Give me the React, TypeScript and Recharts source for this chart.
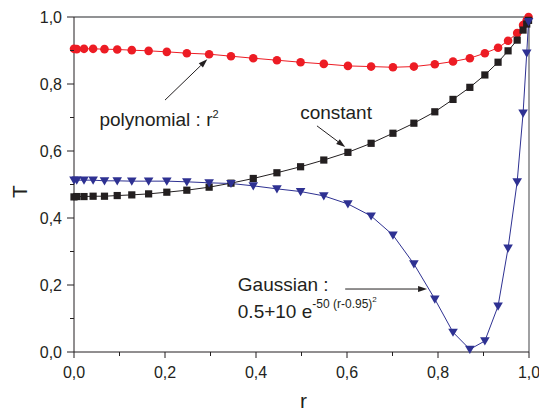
import { Line, LineChart, ReferenceDot, ReferenceLine, XAxis, YAxis } from 'recharts'

const FONT = '"Liberation Sans", Arial, sans-serif'
const INK = '#231f20'
const RED = '#ed1c24'
const BLUE = '#2e3192'
const FRAME = '#6d6e71'

// r positions of the computed points (same for all three profiles)
const rValues = [
  0, 0.006, 0.022, 0.042, 0.067, 0.095, 0.127, 0.164, 0.204, 0.248, 0.297, 0.345, 0.394, 0.446, 0.498,
  0.549, 0.602, 0.653, 0.701, 0.747, 0.793, 0.833, 0.87, 0.903, 0.932, 0.954, 0.974, 0.987, 0.995, 0.999
]

const polynomialT = [
  0.905, 0.904, 0.905, 0.905, 0.904, 0.903, 0.901, 0.899, 0.896, 0.892, 0.889, 0.883, 0.877, 0.871, 0.865,
  0.86, 0.854, 0.852, 0.85, 0.852, 0.859, 0.867, 0.877, 0.892, 0.908, 0.929, 0.952, 0.976, 0.99, 1.0
]

const constantT = [
  0.463, 0.464, 0.464, 0.465, 0.465, 0.467, 0.469, 0.472, 0.477, 0.483, 0.492, 0.504, 0.518, 0.535, 0.553,
  0.573, 0.596, 0.623, 0.653, 0.683, 0.717, 0.754, 0.79, 0.827, 0.865, 0.899, 0.931, 0.961, 0.979, 0.99
]

const gaussianT = [
  0.513, 0.513, 0.513, 0.513, 0.511, 0.511, 0.51, 0.51, 0.51, 0.508, 0.505, 0.503, 0.496, 0.487, 0.479,
  0.466, 0.442, 0.406, 0.349, 0.263, 0.158, 0.059, 0.008, 0.033, 0.137, 0.31, 0.508, 0.713, 0.892, 0.986
]

const axisTicks = [0, 0.1, 0.2, 0.3, 0.4, 0.5, 0.6, 0.7, 0.8, 0.9, 1.0]

const chartData = rValues.map((r, i) => ({
  r,
  polynomial: polynomialT[i],
  constant: constantT[i],
  gaussian: gaussianT[i]
}))

function formatTick(value: number): string {
  return value.toFixed(1).replace('.', ',')
}

function isMajor(value: number): boolean {
  return Math.round(value * 10) % 2 === 0
}

function XTick({ x, y, payload }: any) {
  const major = isMajor(payload.value)
  return (
    <g>
      <line x1={x} x2={x} y1={y} y2={y + (major ? 6 : 4)} stroke={INK} strokeWidth={1} />
      {major && (
        <text x={x} y={y + 26} textAnchor="middle" fontSize={16} fill={INK} fontFamily={FONT}>
          {formatTick(payload.value)}
        </text>
      )}
    </g>
  )
}

function YTick({ x, y, payload }: any) {
  const major = isMajor(payload.value)
  return (
    <g>
      <line x1={x - (major ? 7 : 4)} x2={x} y1={y} y2={y} stroke={INK} strokeWidth={1} />
      {major && (
        <text x={x - 12} y={y} dy="0.36em" textAnchor="end" fontSize={16} fill={INK} fontFamily={FONT}>
          {formatTick(payload.value)}
        </text>
      )}
    </g>
  )
}

function CircleDot({ cx, cy, index }: any) {
  return <circle key={index} cx={cx} cy={cy} r={4.3} fill={RED} />
}

function SquareDot({ cx, cy, index }: any) {
  return <rect key={index} x={cx - 3.6} y={cy - 3.6} width={7.2} height={7.2} fill={INK} />
}

function TriangleDot({ cx, cy, index }: any) {
  return <path key={index} d={`M${cx - 4.8},${cy - 3.6}L${cx + 4.8},${cy - 3.6}L${cx},${cy + 4.6}Z`} fill={BLUE} />
}

function arrowShape(props: any) {
  const { x1, y1, x2, y2 } = props
  const angle = Math.atan2(y2 - y1, x2 - x1)
  const len = 9
  const half = 3
  const bx = x2 - len * Math.cos(angle)
  const by = y2 - len * Math.sin(angle)
  const px = -Math.sin(angle) * half
  const py = Math.cos(angle) * half
  return (
    <g>
      <line x1={x1} y1={y1} x2={bx} y2={by} stroke={INK} strokeWidth={1} />
      <polygon points={`${x2},${y2} ${bx + px},${by + py} ${bx - px},${by - py}`} fill={INK} />
    </g>
  )
}

const textStyle = { fontSize: 19, fill: INK, fontFamily: FONT }

function polynomialLabel({ cx, cy }: any) {
  return (
    <text x={cx} y={cy} {...textStyle}>
      polynomial : r<tspan dy={-8} fontSize={11}>2</tspan>
    </text>
  )
}

function constantLabel({ cx, cy }: any) {
  return (
    <text x={cx} y={cy} {...textStyle}>
      constant
    </text>
  )
}

function gaussianLabel({ cx, cy }: any) {
  return (
    <text x={cx} y={cy} {...textStyle}>
      Gaussian :
    </text>
  )
}

function formulaLabel({ cx, cy }: any) {
  return (
    <text x={cx} y={cy} {...textStyle}>
      0.5+10 e<tspan dy={-10} fontSize={12}>-50 (r-0.95)</tspan>
      <tspan dy={-6} fontSize={8}>2</tspan>
    </text>
  )
}

function YTitle(props: any) {
  const vb = props.viewBox || { x: 0, y: 17, width: 74, height: 335 }
  const cx = vb.x + 19
  const cy = vb.y + vb.height / 2 + 7
  return (
    <text
      x={cx}
      y={cy}
      textAnchor="middle"
      dominantBaseline="central"
      transform={`rotate(-90, ${cx}, ${cy})`}
      fontSize={21}
      fill={INK}
      fontFamily={FONT}
    >
      T
    </text>
  )
}

function XTitle(props: any) {
  const vb = props.viewBox || { x: 74, y: 352, width: 455, height: 60 }
  return (
    <text x={vb.x + vb.width / 2 + 2} y={vb.y + 56} textAnchor="middle" fontSize={21} fill={INK} fontFamily={FONT}>
      r
    </text>
  )
}

export default function App() {
  return (
    <div style={{ position: 'absolute', left: 0, top: 0, background: '#fff' }}>
      <LineChart width={539} height={412} data={chartData} margin={{ top: 17, right: 10, bottom: 0, left: 0 }}>
        <XAxis
          dataKey="r"
          type="number"
          domain={[0, 1]}
          ticks={axisTicks}
          interval={0}
          height={60}
          tickSize={0}
          tickMargin={0}
          tickLine={false}
          tick={<XTick />}
          axisLine={{ stroke: INK, strokeWidth: 1 }}
          label={{ content: XTitle }}
        />
        <YAxis
          type="number"
          domain={[0, 1]}
          ticks={axisTicks}
          interval={0}
          width={74}
          tickSize={0}
          tickMargin={0}
          tickLine={false}
          tick={<YTick />}
          axisLine={{ stroke: INK, strokeWidth: 1 }}
          label={{ content: YTitle }}
        />
        <ReferenceLine y={1} stroke={FRAME} strokeWidth={1.3} />
        <ReferenceLine x={1} stroke={FRAME} strokeWidth={1.3} />

        <Line
          dataKey="polynomial"
          stroke={RED}
          strokeWidth={1}
          dot={CircleDot}
          activeDot={false}
          isAnimationActive={false}
        />
        <Line
          dataKey="constant"
          stroke={INK}
          strokeWidth={1}
          dot={SquareDot}
          activeDot={false}
          isAnimationActive={false}
        />
        <Line
          dataKey="gaussian"
          stroke={BLUE}
          strokeWidth={1}
          dot={TriangleDot}
          activeDot={false}
          isAnimationActive={false}
        />

        <ReferenceLine segment={[{ x: 0.2, y: 0.752 }, { x: 0.293, y: 0.874 }]} shape={arrowShape} />
        <ReferenceLine segment={[{ x: 0.534, y: 0.675 }, { x: 0.596, y: 0.612 }]} shape={arrowShape} />
        <ReferenceLine segment={[{ x: 0.596, y: 0.188 }, { x: 0.776, y: 0.188 }]} shape={arrowShape} />

        <ReferenceDot x={0.056} y={0.675} r={0} shape={polynomialLabel} />
        <ReferenceDot x={0.497} y={0.695} r={0} shape={constantLabel} />
        <ReferenceDot x={0.36} y={0.183} r={0} shape={gaussianLabel} />
        <ReferenceDot x={0.36} y={0.101} r={0} shape={formulaLabel} />
      </LineChart>
    </div>
  )
}
